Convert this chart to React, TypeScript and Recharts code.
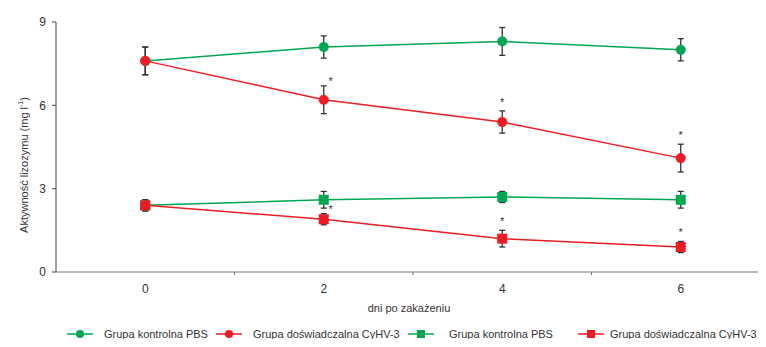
import React from 'react';
import { ComposedChart, Line, Scatter, XAxis, YAxis, ErrorBar, Legend } from 'recharts';

const days = [0, 2, 4, 6];
const pbsCircle = [7.6, 8.1, 8.3, 8.0];
const pbsCircleErr = [0.5, 0.4, 0.5, 0.4];
const cyhvCircle = [7.6, 6.2, 5.4, 4.1];
const cyhvCircleErr = [0.5, 0.5, 0.4, 0.5];
const pbsSquare = [2.4, 2.6, 2.7, 2.6];
const pbsSquareErr = [0.2, 0.3, 0.2, 0.3];
const cyhvSquare = [2.4, 1.9, 1.2, 0.9];
const cyhvSquareErr = [0.2, 0.2, 0.3, 0.2];
const cyhvCircleSig = [false, true, true, true];
const cyhvSquareSig = [false, true, true, true];
const yTicks = [0, 3, 6, 9];
const xTicks = [-1, 0, 1, 2, 3, 4, 5, 6, 7];
const seriesNames = ['Grupa kontrolna PBS', 'Grupa doświadczalna CyHV-3', 'Grupa kontrolna PBS', 'Grupa doświadczalna CyHV-3'];
const xTitle = 'dni po zakażeniu';
const yTitle = 'Aktywność lizozymu (mg l';

const GREEN = '#00a651';
const RED = '#ed1c24';
const FONT = "'Liberation Sans', Arial, sans-serif";

const data = days.map((d, i) => ({
  day: d,
  pbsC: pbsCircle[i], pbsCE: pbsCircleErr[i],
  cyC: cyhvCircle[i], cyCE: cyhvCircleErr[i],
  pbsS: pbsSquare[i], pbsSE: pbsSquareErr[i],
  cyS: cyhvSquare[i], cySE: cyhvSquareErr[i],
}));

const sigData = [
  ...days.map((d, i) => (cyhvCircleSig[i] ? { day: d, y: cyhvCircle[i] + cyhvCircleErr[i] } : null)),
  ...days.map((d, i) => (cyhvSquareSig[i] ? { day: d, y: cyhvSquare[i] + cyhvSquareErr[i] } : null)),
].filter(Boolean);

const CircleDot = (color: string) => (props: any) => {
  const { cx, cy, index } = props;
  if (cx == null || cy == null) return <g key={index} />;
  return <circle key={index} cx={cx} cy={cy} r={4.8} fill={color} stroke={color} strokeWidth={0.5} />;
};
const SquareDot = (color: string) => (props: any) => {
  const { cx, cy, index } = props;
  if (cx == null || cy == null) return <g key={index} />;
  return <rect key={index} x={cx - 5} y={cy - 5} width={10} height={10} fill={color} />;
};

const Star = (props: any) => {
  const { cx, cy, payload } = props;
  const side = payload.day === 2;
  return (
    <text x={cx + (side ? 7 : 0)} y={cy + (side ? -1 : -5)} textAnchor="middle" fontSize={11} fill="#333" fontFamily={FONT}>*</text>
  );
};

const XTick = (props: any) => {
  const { x, y, payload } = props;
  const v = payload.value;
  if (days.includes(v)) {
    return <text x={x} y={y + 21} textAnchor="middle" fontSize={12} fill="#333" fontFamily={FONT}>{v}</text>;
  }
  if (v > xTicks[0] && v < xTicks[xTicks.length - 1]) {
    return <line x1={x} x2={x} y1={y} y2={y + 3} stroke="#777" strokeWidth={1} />;
  }
  return <g />;
};

const YLabel = (props: any) => {
  const vb = props.viewBox || { x: 0, y: 22, width: 56, height: 250 };
  const cx = 24;
  const cy = vb.y + vb.height / 2 + 18;
  return (
    <text x={cx} y={cy} transform={`rotate(-90, ${cx}, ${cy})`} textAnchor="middle" dominantBaseline="central" fontSize={11} fill="#333" fontFamily={FONT}>
      {yTitle}
      <tspan dy={-4} fontSize={7}>-1</tspan>
      <tspan dy={4}>)</tspan>
    </text>
  );
};

const legendIconX = [67, 216, 408, 578];
const legendTextX = [104, 253, 449, 610];
const legendColors = [GREEN, RED, GREEN, RED];
const legendShapes = ['circle', 'circle', 'square', 'square'];

const LegendContent = () => (
  <svg width={766} height={30} style={{ display: 'block', overflow: 'visible' }}>
    {seriesNames.map((name, i) => {
      const x0 = legendIconX[i];
      const cx = x0 + 13;
      const c = legendColors[i];
      return (
        <g key={i}>
          <line x1={x0} x2={x0 + 26} y1={19} y2={19} stroke={c} strokeWidth={1.5} />
          {legendShapes[i] === 'circle' ? (
            <circle cx={cx} cy={19} r={4} fill={c} />
          ) : (
            <rect x={cx - 4} y={15} width={8} height={8} fill={c} />
          )}
          <text x={legendTextX[i]} y={19} dominantBaseline="central" fontSize={11} fill="#333" fontFamily={FONT}>{name}</text>
        </g>
      );
    })}
  </svg>
);

export default function App() {
  return (
    <div style={{ margin: -8, width: 766, height: 347, overflow: 'hidden', position: 'relative', background: '#fff' }}>
      <ComposedChart
        width={790}
        height={347}
        data={data}
        margin={{ top: 22, right: 20, bottom: 0, left: 0 }}
        style={{ fontFamily: FONT }}
      >
        <XAxis
          dataKey="day"
          type="number"
          domain={[xTicks[0], xTicks[xTicks.length - 1]]}
          ticks={xTicks}
          interval={0}
          tickLine={false}
          tickSize={0}
          tickMargin={0}
          height={45}
          axisLine={{ stroke: '#777', strokeWidth: 1 }}
          tick={<XTick />}
          label={{ value: xTitle, position: 'insideBottom', offset: 5, dx: -4, fontSize: 11, fill: '#333', fontFamily: FONT }}
        />
        <YAxis
          type="number"
          domain={[0, 9]}
          ticks={yTicks}
          interval={0}
          width={56}
          tickSize={4}
          tickMargin={6}
          axisLine={{ stroke: '#444', strokeWidth: 1 }}
          tickLine={{ stroke: '#444' }}
          tick={{ fontSize: 12, fill: '#333', fontFamily: FONT }}
          label={<YLabel />}
        />
        <Line dataKey="pbsC" stroke={GREEN} strokeWidth={1.5} dot={CircleDot(GREEN)} isAnimationActive={false} legendType="none">
          <ErrorBar dataKey="pbsCE" width={3} stroke="#333" strokeWidth={1.3} direction="y" />
        </Line>
        <Line dataKey="cyC" stroke={RED} strokeWidth={1.5} dot={CircleDot(RED)} isAnimationActive={false} legendType="none">
          <ErrorBar dataKey="cyCE" width={3} stroke="#333" strokeWidth={1.3} direction="y" />
        </Line>
        <Line dataKey="pbsS" stroke={GREEN} strokeWidth={1.5} dot={SquareDot(GREEN)} isAnimationActive={false} legendType="none">
          <ErrorBar dataKey="pbsSE" width={3} stroke="#333" strokeWidth={1.3} direction="y" />
        </Line>
        <Line dataKey="cyS" stroke={RED} strokeWidth={1.5} dot={SquareDot(RED)} isAnimationActive={false} legendType="none">
          <ErrorBar dataKey="cySE" width={3} stroke="#333" strokeWidth={1.3} direction="y" />
        </Line>
        <Scatter data={sigData as any[]} dataKey="y" shape={<Star />} isAnimationActive={false} legendType="none" />
        <Legend
          verticalAlign="bottom"
          height={30}
          content={<LegendContent />}
          wrapperStyle={{ position: 'absolute', left: 0, top: 315, width: 766, height: 30 }}
        />
      </ComposedChart>
    </div>
  );
}
